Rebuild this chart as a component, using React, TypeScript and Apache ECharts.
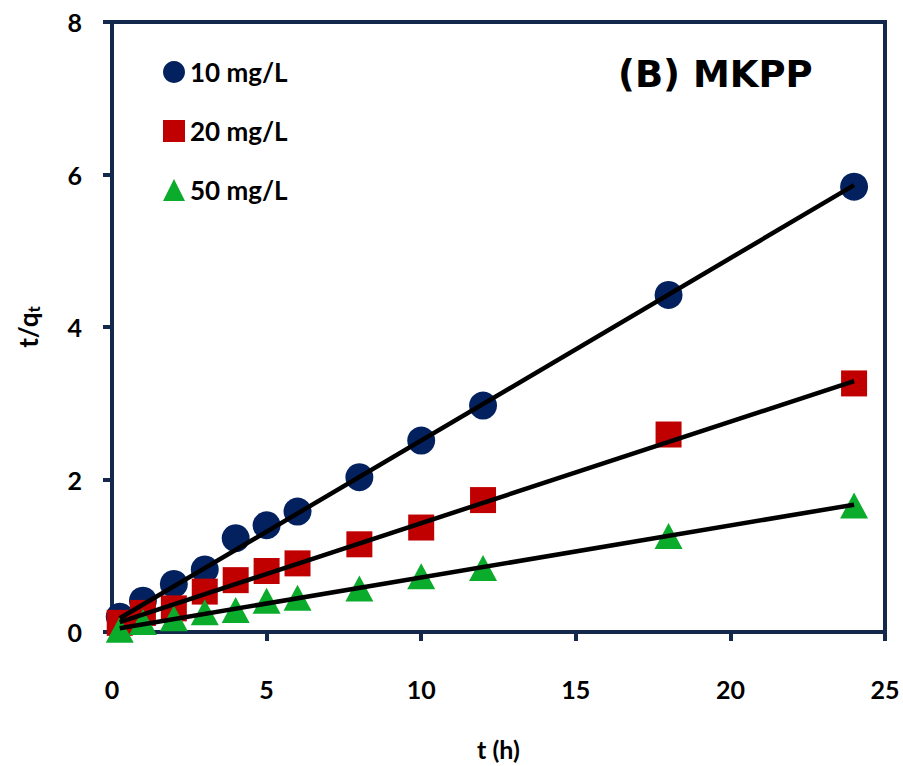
import React, { useEffect, useRef } from "react";
import * as echarts from "echarts";

const times = [0.25, 1, 2, 3, 4, 5, 6, 8, 10, 12, 18, 24];
const series10 = [0.2, 0.41, 0.63, 0.82, 1.23, 1.4, 1.58, 2.03, 2.51, 2.97, 4.42, 5.84];
const series20 = [0.12, 0.25, 0.31, 0.53, 0.68, 0.8, 0.9, 1.15, 1.37, 1.73, 2.59, 3.26];
const series50 = [0.03, 0.13, 0.18, 0.26, 0.29, 0.41, 0.45, 0.57, 0.73, 0.84, 1.26, 1.66];

const fitT = [0.25, 24];
const fit10 = [0.18, 5.86];
const fit20 = [0.13, 3.29];
const fit50 = [0.05, 1.67];

const names = ["10 mg/L", "20 mg/L", "50 mg/L"];
const xTicks = [0, 5, 10, 15, 20, 25];
const yTicks = [0, 2, 4, 6, 8];

const NAVY = "#14284b";
const FONT = "Lato";

export default function App() {
  const ref = useRef<HTMLDivElement>(null);
  useEffect(() => {
    if (!ref.current) return;
    const chart = echarts.init(ref.current, undefined, { renderer: "svg" });
    const pts = (ys: number[]) => times.map((t, i) => [t, ys[i]]);
    const fit = (ys: number[]) => fitT.map((t, i) => [t, ys[i]]);
    const lineSeries = (ys: number[]) => ({
      type: "line",
      data: fit(ys),
      symbol: "none",
      lineStyle: { color: "#000", width: 4.5 },
      z: 10,
      silent: true,
    });
    chart.setOption({
      animation: false,
      backgroundColor: "#fff",
      grid: {
        left: 112,
        right: 18,
        top: 22,
        bottom: 132,
        show: true,
        borderColor: NAVY,
        borderWidth: 4,
      },
      title: {
        text: "(B) MKPP",
        left: 613,
        top: 51,
        textStyle: { fontFamily: "DejaVu Sans", fontWeight: "bold", fontSize: 37, color: "#000" },
      },
      legend: {
        data: names,
        orient: "vertical",
        left: 158,
        top: 54,
        itemWidth: 22,
        itemHeight: 22,
        itemGap: 33,
        textStyle: { fontFamily: FONT, fontWeight: "bold", fontSize: 26, color: "#000" },
      },
      xAxis: {
        type: "value",
        min: 0,
        max: 25,
        interval: 5,
        name: "t (h)",
        nameLocation: "middle",
        nameGap: 104,
        nameTextStyle: { fontFamily: FONT, fontWeight: "bold", fontSize: 25, color: "#000" },
        axisLine: { show: true, lineStyle: { color: NAVY, width: 4 } },
        axisTick: { show: true, inside: false, length: 9, lineStyle: { color: NAVY, width: 4 } },
        axisLabel: {
          margin: 44,
          fontFamily: FONT,
          fontWeight: "bold",
          fontSize: 25,
          color: "#000",
          formatter: (v: number) => (xTicks.includes(v) ? String(v) : ""),
        },
        splitLine: { show: false },
      },
      yAxis: {
        type: "value",
        min: 0,
        max: 8,
        interval: 2,
        name: "{a|t/q}{b|t}",
        nameLocation: "middle",
        nameGap: 70,
        nameRotate: 90,
        nameTextStyle: {
          rich: {
            a: { fontFamily: FONT, fontWeight: "bold", fontSize: 26, color: "#000" },
            b: { fontFamily: FONT, fontWeight: "bold", fontSize: 17, color: "#000", verticalAlign: "bottom", padding: [12, 0, 0, 0] },
          },
        },
        axisLine: { show: true, lineStyle: { color: NAVY, width: 4 } },
        axisTick: { show: true, inside: false, length: 9, lineStyle: { color: NAVY, width: 4 } },
        axisLabel: {
          margin: 30,
          fontFamily: FONT,
          fontWeight: "bold",
          fontSize: 25,
          color: "#000",
          formatter: (v: number) => (yTicks.includes(v) ? String(v) : ""),
        },
        splitLine: { show: false },
      },
      series: [
        {
          name: names[0],
          type: "scatter",
          symbol: "circle",
          symbolSize: 28,
          itemStyle: { color: "#03215f", opacity: 1 },
          data: pts(series10),
          z: 2,
        },
        {
          name: names[1],
          type: "scatter",
          symbol: "rect",
          symbolSize: 26,
          itemStyle: { color: "#c00000", opacity: 1 },
          data: pts(series20),
          z: 3,
        },
        {
          name: names[2],
          type: "scatter",
          symbol: "triangle",
          symbolSize: [28, 26],
          itemStyle: { color: "#0bab2b", opacity: 1 },
          data: pts(series50),
          z: 4,
        },
        lineSeries(fit10),
        lineSeries(fit20),
        lineSeries(fit50),
      ],
    });
    return () => chart.dispose();
  }, []);
  return (
    <div
      ref={ref}
      style={{ position: "fixed", left: 0, top: 0, width: 903, height: 766, background: "#fff" }}
    />
  );
}
